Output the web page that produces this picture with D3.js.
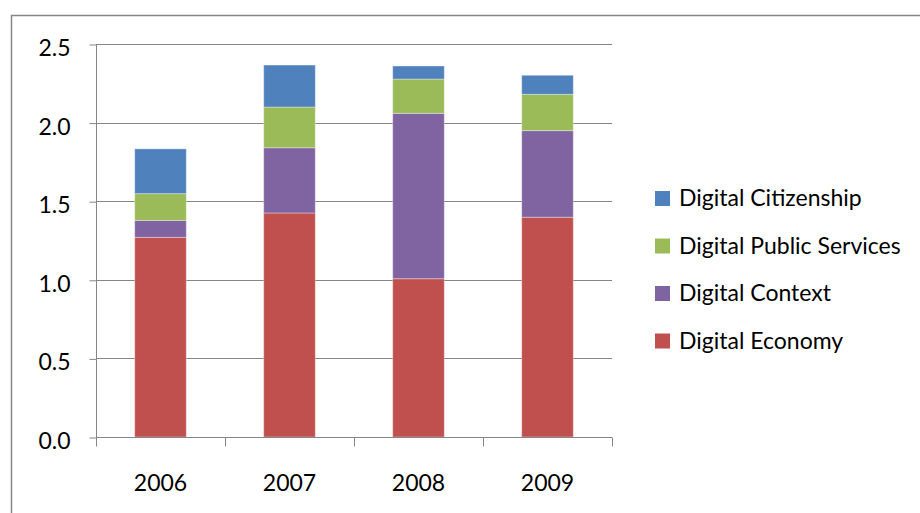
<!DOCTYPE html>
<html>
<head>
<meta charset="utf-8">
<script src="https://cdn.jsdelivr.net/npm/d3@7"></script>
<style>
  html, body { margin: 0; padding: 0; background: #fff; }
  svg { display: block; }
  text { font-family: Lato, "Open Sans", sans-serif; fill: #000; }
</style>
</head>
<body>
<svg id="chart" width="920" height="513"></svg>
<script>
const years = ["2006", "2007", "2008", "2009"];
const seriesNames = ["Digital Economy", "Digital Context", "Digital Public Services", "Digital Citizenship"];
const digitalEconomy        = [1.27, 1.425, 1.007, 1.398];
const digitalContext        = [0.108, 0.415, 1.052, 0.551];
const digitalPublicServices = [0.17, 0.259, 0.218, 0.231];
const digitalCitizenship    = [0.285, 0.267, 0.083, 0.121];
const yTicks = [0, 0.5, 1.0, 1.5, 2.0, 2.5];
const colors = ["#C0504D", "#8064A2", "#9BBB59", "#4F81BD"];

const seriesValues = [digitalEconomy, digitalContext, digitalPublicServices, digitalCitizenship];
const rows = years.map((y, i) => {
  const r = { year: y };
  seriesNames.forEach((s, j) => r[s] = seriesValues[j][i]);
  return r;
});

const svg = d3.select("#chart");
const axisColor = "#868686";
const fontSize = "23px";

// outer chart frame
svg.append("rect")
  .attr("x", 11.5).attr("y", 15.5)
  .attr("width", 1000).attr("height", 600)
  .attr("fill", "none").attr("stroke", axisColor).attr("stroke-width", 1.5);

const plot = { left: 96, right: 612, top: 44, bottom: 437 };

const x = d3.scaleBand().domain(years).range([plot.left, plot.right]).paddingInner(0.6).paddingOuter(0.3);
const xOuter = d3.scaleBand().domain(years).range([plot.left, plot.right]);
const y = d3.scaleLinear().domain([0, 2.5]).range([plot.bottom, plot.top]);

// gridlines
svg.append("g").selectAll("line").data(yTicks.filter(t => t > 0)).join("line")
  .attr("x1", plot.left).attr("x2", plot.right)
  .attr("y1", d => Math.round(y(d)) + 0.5).attr("y2", d => Math.round(y(d)) + 0.5)
  .attr("stroke", axisColor).attr("stroke-width", 1);

// stacked bars
const stack = d3.stack().keys(seriesNames)(rows);
svg.append("g").selectAll("g").data(stack).join("g")
  .attr("fill", (d, i) => colors[i])
  .selectAll("rect").data(d => d).join("rect")
  .attr("x", d => x(d.data.year))
  .attr("width", x.bandwidth())
  .attr("y", d => y(d[1]))
  .attr("height", d => y(d[0]) - y(d[1]))
  .attr("stroke", "rgba(255,255,255,0.35)").attr("stroke-width", 1);

// y axis
const yAxis = d3.axisLeft(y).tickValues(yTicks).tickFormat(d3.format(".1f")).tickSize(7).tickSizeOuter(0);
const gy = svg.append("g").attr("transform", `translate(${plot.left + 0.5},0)`).call(yAxis);
gy.select(".domain").remove();
gy.append("line").attr("x1", 0).attr("x2", 0).attr("y1", plot.top).attr("y2", plot.bottom + 9)
  .attr("stroke", axisColor);
gy.selectAll(".tick line").attr("stroke", axisColor).attr("transform", "translate(0,0.5)");
gy.selectAll(".tick text").attr("x", -26).attr("dy", "0.5em")
  .style("font-size", fontSize).style("font-family", "Lato, sans-serif").attr("fill", "#000");

// x axis
const gx = svg.append("g").attr("transform", `translate(0,${plot.bottom + 0.5})`);
gx.append("line").attr("x1", plot.left).attr("x2", plot.right).attr("stroke", axisColor);
const bounds = years.map(d => xOuter(d)).concat([plot.right]);
gx.selectAll("line.tk").data(bounds).join("line").attr("class", "tk")
  .attr("x1", d => Math.round(d) + 0.5).attr("x2", d => Math.round(d) + 0.5)
  .attr("y1", 0).attr("y2", 9).attr("stroke", axisColor);
const xAxis = d3.axisBottom(x).tickSize(0);
const gxl = svg.append("g").attr("transform", `translate(0,${plot.bottom})`).call(xAxis);
gxl.select(".domain").remove();
gxl.selectAll(".tick text").attr("y", 46).attr("dy", "0.36em")
  .style("font-size", fontSize).style("font-family", "Lato, sans-serif").attr("fill", "#000");

// legend (reverse order: Citizenship on top)
const legendItems = seriesNames.map((s, i) => ({ name: s, color: colors[i] })).reverse();
const lg = svg.append("g").selectAll("g").data(legendItems).join("g")
  .attr("transform", (d, i) => `translate(655,${198 + i * 47.5})`);
lg.append("rect").attr("x", 0).attr("y", -7).attr("width", 15).attr("height", 15).attr("fill", d => d.color);
lg.append("text").attr("x", 24).attr("y", 0).attr("dy", "0.36em")
  .style("font-size", fontSize).text(d => d.name);
</script>
</body>
</html>
